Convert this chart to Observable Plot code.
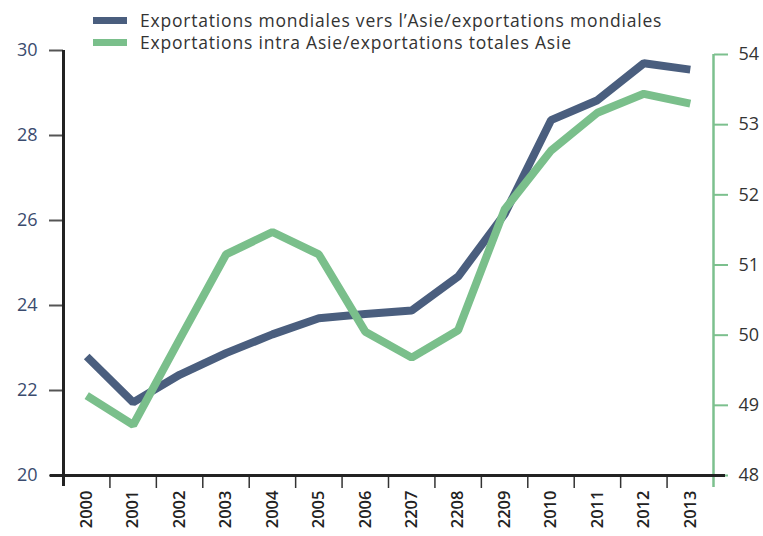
<!DOCTYPE html>
<html>
<head>
<meta charset="utf-8">
<script src="https://cdn.jsdelivr.net/npm/d3@7"></script>
<script src="https://cdn.jsdelivr.net/npm/@observablehq/plot@0.6"></script>
<style>
  html, body { margin: 0; padding: 0; background: #fff; }
  #wrap { position: relative; width: 763px; height: 536px; font-family: "Open Sans", sans-serif; }
  #legend { position: absolute; left: 93px; top: 9px; color: #333; font-size: 17.5px; letter-spacing: 0.8px; line-height: 22px; }
  .row { display: flex; align-items: center; white-space: nowrap; }
  .sw { width: 34px; height: 7px; margin-right: 13px; }
</style>
</head>
<body>
<div id="wrap"><div id="legend"></div></div>
<script>
const categories = ["2000","2001","2002","2003","2004","2005","2006","2207","2208","2209","2010","2011","2012","2013"];
const worldToAsia = [22.8, 21.72, 22.37, 22.88, 23.32, 23.7, 23.8, 23.88, 24.68, 26.15, 28.36, 28.83, 29.7, 29.55];
const intraAsia = [49.14, 48.72, 49.94, 51.15, 51.47, 51.15, 50.05, 49.68, 50.07, 51.79, 52.63, 53.17, 53.44, 53.3];
const leftTicks = [20, 22, 24, 26, 28, 30];
const rightTicks = [48, 49, 50, 51, 52, 53, 54];
const seriesNames = ["Exportations mondiales vers l’Asie/exportations mondiales", "Exportations intra Asie/exportations totales Asie"];
const colors = ["#4a5e7e", "#7abf8b"];

// right axis (48–54) mapped onto left scale (20–30)
const k = 1.651;
const toLeft = v => 20 + (v - 48) * k;

const idx = categories.map((_, i) => i);
const dark = idx.map(i => ({i, v: worldToAsia[i]}));
const green = idx.map(i => ({i, v: toLeft(intraAsia[i])}));
const bounds = idx.slice(1).map(i => i - 0.5);

const font = "Open Sans, sans-serif";

const chart = Plot.plot({
  width: 763,
  height: 536,
  marginLeft: 63,
  marginRight: 50,
  marginTop: 50,
  marginBottom: 61,
  style: {fontFamily: font, background: "transparent", overflow: "visible"},
  x: {domain: [-0.5, categories.length - 0.5], axis: null},
  y: {domain: [20, 30], axis: null},
  marks: [
    Plot.axisY({anchor: "left", label: null, ticks: leftTicks, tickSize: 14, tickPadding: 12, fontSize: 18, color: "#3a4b6e", stroke: "#555", strokeWidth: 2, strokeOpacity: 1, tickFormat: d => d}),
    Plot.axisY({anchor: "right", label: null, ticks: rightTicks.map(toLeft), tickSize: 14, tickPadding: 11, fontSize: 18, color: "#333", stroke: "#7cc08e", strokeWidth: 2, strokeOpacity: 1, tickFormat: d => String(Math.round((d - 20) / k + 48))}),
    Plot.ruleX([categories.length - 0.5], {y1: toLeft(54), y2: 20, stroke: "#7cc08e", strokeWidth: 2.5, insetBottom: -12}),
    Plot.axisX({label: null, ticks: idx, tickFormat: i => categories[i], tickSize: 0, tickPadding: 15, tickRotate: -90, fontSize: 16.5, fontWeight: 600, color: "#222"}),
    Plot.ruleX(bounds, {y1: 20, y2: 20, stroke: "#333", strokeWidth: 1.5, insetBottom: -13}),
    Plot.ruleX([-0.5], {y1: 30, y2: 20, stroke: "#222", strokeWidth: 3, insetBottom: -11}),
    Plot.ruleY([20], {stroke: "#222", strokeWidth: 3, insetLeft: -13, insetRight: -12}),
    Plot.line(dark, {x: "i", y: "v", stroke: colors[0], strokeWidth: 8, strokeLinejoin: "miter", strokeLinecap: "butt"}),
    Plot.line(green, {x: "i", y: "v", stroke: colors[1], strokeWidth: 8, strokeLinejoin: "miter", strokeLinecap: "butt"})
  ]
});
document.getElementById("wrap").prepend(chart);

const legend = document.getElementById("legend");
seriesNames.forEach((name, j) => {
  const row = document.createElement("div");
  row.className = "row";
  const sw = document.createElement("div");
  sw.className = "sw";
  sw.style.background = colors[j];
  const t = document.createElement("span");
  t.textContent = name;
  row.appendChild(sw);
  row.appendChild(t);
  legend.appendChild(row);
});
</script>
</body>
</html>
